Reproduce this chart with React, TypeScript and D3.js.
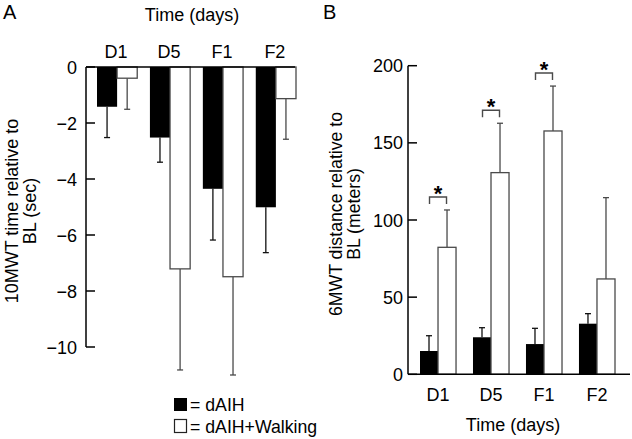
import React from "react";
import * as d3 from "d3";

const categories = ["D1", "D5", "F1", "F2"];
const seriesNames = ["dAIH", "dAIH+Walking"];

// Panel A: 10MWT time relative to BL (sec)
const aMeanDAIH = [-1.42, -2.52, -4.35, -5.01];
const aErrDAIH = [1.1, 0.88, 1.83, 1.62];
const aMeanWalk = [-0.4, -7.21, -7.49, -1.13];
const aErrWalk = [1.11, 3.61, 3.51, 1.45];
const aTicks = [0, -2, -4, -6, -8, -10];

// Panel B: 6MWT distance relative to BL (meters)
const bMeanDAIH = [15.1, 24.0, 19.6, 32.8];
const bErrDAIH = [9.9, 6.2, 10.2, 6.5];
const bMeanWalk = [82.3, 130.7, 157.7, 61.8];
const bErrWalk = [24.2, 32.0, 29.1, 52.7];
const bSignificant = [true, true, true, false];
const bTicks = [0, 50, 100, 150, 200];

const FONT = "Liberation Sans, Arial, Helvetica, sans-serif";
const FS = 18;
const GRAY = "#4a4a4a";

function fmtA(v: number) {
  return v === 0 ? "0" : "\u2212" + Math.abs(v);
}

function T(props: any) {
  return <text fontFamily={FONT} fontSize={FS} fill="#000" {...props} />;
}

export default function App() {
  const axA = 86;
  const axAEnd = 295;
  const yA = d3.scaleLinear().domain([0, -10]).range([67, 347]);
  const xA = d3.scaleBand<string>().domain(categories).range([97, 296]).paddingInner(0.24).paddingOuter(0);
  const subA = d3.scaleBand<string>().domain(seriesNames).range([0, xA.bandwidth()]);

  const axB = 408;
  const axBEnd = 630;
  const yB = d3.scaleLinear().domain([0, 200]).range([374.3, 65.7]);
  const xB = d3.scaleBand<string>().domain(categories).range([420, 615]).paddingInner(0.32).paddingOuter(0);
  const subB = d3.scaleBand<string>().domain(seriesNames).range([0, xB.bandwidth()]);

  const cap = 3;

  return (
    <svg width={632} height={439} style={{ position: "absolute", left: 0, top: 0, background: "#fff" }} fontFamily={FONT}>
      <rect x={0} y={0} width={632} height={439} fill="#fff" />
      {/* Panel A */}
      <T x={3} y={19} fontSize={20}>A</T>
      <T x={192} y={21} textAnchor="middle">Time (days)</T>
      {categories.map((c) => (
        <T key={c} x={(xA(c) as number) + xA.bandwidth() / 2 - 1} y={58} textAnchor="middle">{c}</T>
      ))}
      <g transform="translate(18,211) rotate(-90)">
        <T x={0} y={0} textAnchor="middle">10MWT time relative to</T>
        <T x={0} y={17.5} textAnchor="middle">BL (sec)</T>
      </g>
      {categories.map((c, i) => {
        const x0 = xA(c) as number;
        const bw = subA.bandwidth();
        const xb = x0 + (subA("dAIH") as number);
        const xw = x0 + (subA("dAIH+Walking") as number);
        const cb = xb + bw / 2;
        const cw = xw + bw / 2;
        const eb = yA(aMeanDAIH[i] - aErrDAIH[i]);
        const ew = yA(aMeanWalk[i] - aErrWalk[i]);
        return (
          <g key={c}>
            <line x1={cb} x2={cb} y1={yA(aMeanDAIH[i])} y2={eb} stroke="#111" strokeWidth={1.3} />
            <line x1={cb - cap} x2={cb + cap} y1={eb} y2={eb} stroke="#111" strokeWidth={1.3} />
            <rect x={xb} y={yA(0)} width={bw} height={yA(aMeanDAIH[i]) - yA(0)} fill="#000" />
            <line x1={cw} x2={cw} y1={yA(aMeanWalk[i])} y2={ew} stroke={GRAY} strokeWidth={1.3} />
            <line x1={cw - cap} x2={cw + cap} y1={ew} y2={ew} stroke={GRAY} strokeWidth={1.3} />
            <rect x={xw} y={yA(0)} width={bw} height={yA(aMeanWalk[i]) - yA(0)} fill="#fff" stroke={GRAY} strokeWidth={1.3} />
          </g>
        );
      })}
      <line x1={axA} x2={axA} y1={yA(0)} y2={yA(-10)} stroke="#000" strokeWidth={1.5} />
      <line x1={axA} x2={axAEnd} y1={yA(0)} y2={yA(0)} stroke="#000" strokeWidth={1.5} />
      {aTicks.map((t) => (
        <g key={t}>
          <line x1={axA} x2={axA + 9} y1={yA(t)} y2={yA(t)} stroke="#000" strokeWidth={1.5} />
          <T x={77} y={yA(t) + 6.5} textAnchor="end">{fmtA(t)}</T>
        </g>
      ))}
      {/* Legend */}
      <rect x={174} y={398} width={13} height={13} fill="#000" />
      <T x={190} y={411} fontSize={17.7}>= {seriesNames[0]}</T>
      <rect x={174.5} y={419.5} width={12} height={13} fill="#fff" stroke="#222" strokeWidth={1.2} />
      <T x={190} y={433} fontSize={17.7}>= {seriesNames[1]}</T>

      {/* Panel B */}
      <T x={323} y={19} fontSize={20}>B</T>
      <g transform="translate(342,214) rotate(-90)">
        <T x={0} y={0} fontSize={17.7} textAnchor="middle">6MWT distance relative to</T>
        <T x={0} y={17.5} fontSize={17.7} textAnchor="middle">BL (meters)</T>
      </g>
      {categories.map((c, i) => {
        const x0 = xB(c) as number;
        const bw = subB.bandwidth();
        const xb = x0 + (subB("dAIH") as number);
        const xw = x0 + (subB("dAIH+Walking") as number);
        const cb = xb + bw / 2;
        const cw = xw + bw / 2;
        const eb = yB(bMeanDAIH[i] + bErrDAIH[i]);
        const ew = yB(bMeanWalk[i] + bErrWalk[i]);
        const gc = x0 + xB.bandwidth() / 2;
        const by = ew - 13;
        return (
          <g key={c}>
            <line x1={cb} x2={cb} y1={yB(bMeanDAIH[i])} y2={eb} stroke="#111" strokeWidth={1.3} />
            <line x1={cb - cap} x2={cb + cap} y1={eb} y2={eb} stroke="#111" strokeWidth={1.3} />
            <rect x={xb} y={yB(bMeanDAIH[i])} width={bw} height={yB(0) - yB(bMeanDAIH[i])} fill="#000" />
            <line x1={cw} x2={cw} y1={yB(bMeanWalk[i])} y2={ew} stroke={GRAY} strokeWidth={1.3} />
            <line x1={cw - cap} x2={cw + cap} y1={ew} y2={ew} stroke={GRAY} strokeWidth={1.3} />
            <rect x={xw} y={yB(bMeanWalk[i])} width={bw} height={yB(0) - yB(bMeanWalk[i])} fill="#fff" stroke={GRAY} strokeWidth={1.3} />
            {bSignificant[i] && (
              <g>
                <path d={`M${gc - 8.5},${by + 7}V${by}H${gc + 8.5}V${by + 7}`} fill="none" stroke={GRAY} strokeWidth={1.4} />
                <T x={gc} y={by + 4} fontSize={22} fontWeight="bold" textAnchor="middle">*</T>
              </g>
            )}
            <T x={gc} y={401} textAnchor="middle">{c}</T>
          </g>
        );
      })}
      <line x1={axB} x2={axB} y1={yB(0)} y2={yB(200)} stroke="#000" strokeWidth={1.5} />
      <line x1={axB} x2={axBEnd} y1={yB(0)} y2={yB(0)} stroke="#000" strokeWidth={1.5} />
      {bTicks.map((t) => (
        <g key={t}>
          <line x1={axB} x2={axB + 9} y1={yB(t)} y2={yB(t)} stroke="#000" strokeWidth={1.5} />
          <T x={403} y={yB(t) + 6.5} textAnchor="end">{t}</T>
        </g>
      ))}
      <T x={513} y={431} textAnchor="middle">Time (days)</T>
    </svg>
  );
}
